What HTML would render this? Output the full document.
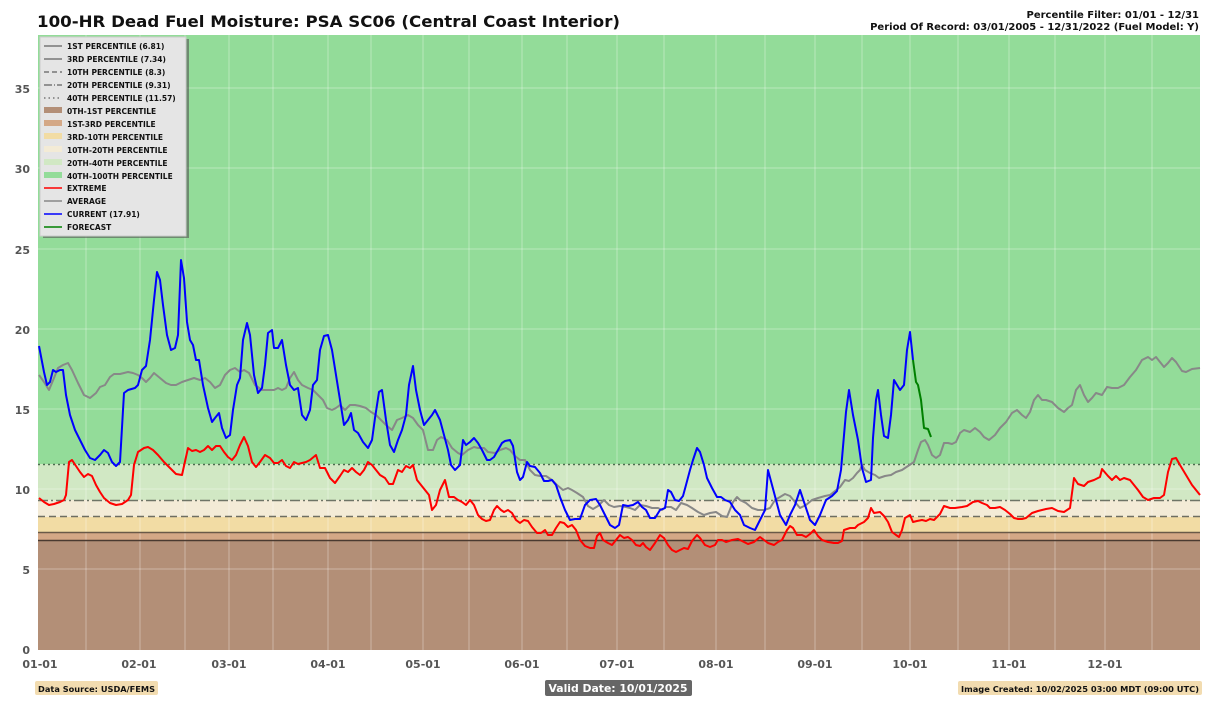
<!DOCTYPE html>
<html><head><meta charset="utf-8"><style>
body{margin:0;background:#fff;font-family:"DejaVu Sans","Liberation Sans",sans-serif;}
</style></head><body>
<svg width="1209" height="703" xmlns="http://www.w3.org/2000/svg" font-family="DejaVu Sans, Liberation Sans, sans-serif">
<rect width="1209" height="703" fill="#fff"/>
<text x="37" y="27" font-size="16" font-weight="bold" fill="#111" textLength="583" lengthAdjust="spacingAndGlyphs">100-HR Dead Fuel Moisture: PSA SC06 (Central Coast Interior)</text>
<text x="1199" y="18" font-size="10" font-weight="bold" text-anchor="end" fill="#111">Percentile Filter: 01/01 - 12/31</text>
<text x="1199" y="30" font-size="10" font-weight="bold" text-anchor="end" fill="#111">Period Of Record: 03/01/2005 - 12/31/2022 (Fuel Model: Y)</text>
<rect x="38" y="35" width="1162" height="430" fill="#93dc99"/>
<rect x="38" y="464" width="1162" height="37" fill="#d1e8c4"/>
<rect x="38" y="500" width="1162" height="17" fill="#f3ebd6"/>
<rect x="38" y="517" width="1162" height="16" fill="#f2dca4"/>
<rect x="38" y="532" width="1162" height="9" fill="#d4a886"/>
<rect x="38" y="541" width="1162" height="109" fill="#b38f77"/>
<g stroke="#fff" stroke-opacity="0.35" stroke-width="1">
<line x1="38" x2="1200" y1="88" y2="88"/><line x1="38" x2="1200" y1="168" y2="168"/><line x1="38" x2="1200" y1="249" y2="249"/><line x1="38" x2="1200" y1="329" y2="329"/><line x1="38" x2="1200" y1="409" y2="409"/><line x1="38" x2="1200" y1="489" y2="489"/><line x1="38" x2="1200" y1="569" y2="569"/>
<line x1="86" x2="86" y1="35" y2="650"/><line x1="140" x2="140" y1="35" y2="650"/><line x1="185" x2="185" y1="35" y2="650"/><line x1="229" x2="229" y1="35" y2="650"/><line x1="273" x2="273" y1="35" y2="650"/><line x1="328" x2="328" y1="35" y2="650"/><line x1="371" x2="371" y1="35" y2="650"/><line x1="423" x2="423" y1="35" y2="650"/><line x1="469" x2="469" y1="35" y2="650"/><line x1="522" x2="522" y1="35" y2="650"/><line x1="567" x2="567" y1="35" y2="650"/><line x1="617" x2="617" y1="35" y2="650"/><line x1="664" x2="664" y1="35" y2="650"/><line x1="716" x2="716" y1="35" y2="650"/><line x1="765" x2="765" y1="35" y2="650"/><line x1="815" x2="815" y1="35" y2="650"/><line x1="862" x2="862" y1="35" y2="650"/><line x1="910" x2="910" y1="35" y2="650"/><line x1="958" x2="958" y1="35" y2="650"/><line x1="1009" x2="1009" y1="35" y2="650"/><line x1="1055" x2="1055" y1="35" y2="650"/><line x1="1105" x2="1105" y1="35" y2="650"/><line x1="1152" x2="1152" y1="35" y2="650"/>
</g>
<g stroke-width="1.6" fill="none">
<line x1="38" x2="1200" y1="540.5" y2="540.5" stroke="#4a3a30"/>
<line x1="38" x2="1200" y1="532.5" y2="532.5" stroke="#6a5a48"/>
<line x1="38" x2="1200" y1="516.5" y2="516.5" stroke="#6e6e62" stroke-dasharray="7,4"/>
<line x1="38" x2="1200" y1="500.5" y2="500.5" stroke="#6e7466" stroke-dasharray="10,3,2,3"/>
<line x1="38" x2="1200" y1="464.5" y2="464.5" stroke="#4e6e50" stroke-dasharray="2,3"/>
</g>
<g fill="none" stroke-width="2" stroke-linejoin="round">
<polyline stroke="#888" points="39,375 44,382 49,390 54,378 58,368 63,365 68,363 72,370 78,383 84,395 90,398 96,393 100,387 105,385 110,377 114,374 120,374 124,373 128,372 133,373 138,375 142,378 146,382 150,378 154,373 160,378 166,383 171,385 176,385 182,382 188,380 194,378 200,380 205,378 210,382 215,388 220,385 225,375 230,370 235,368 240,372 244,370 249,373 255,385 262,390 268,390 274,390 278,388 282,390 286,388 290,378 294,372 298,380 302,385 308,388 313,390 318,395 323,400 327,408 332,410 336,408 340,405 345,410 350,405 355,405 360,406 366,408 371,412 376,415 381,420 386,425 392,430 397,420 402,418 408,415 413,418 418,425 423,430 428,450 433,450 437,440 441,437 447,440 452,448 458,453 462,455 468,450 474,447 478,448 484,448 488,452 495,453 500,450 506,448 510,450 515,456 520,460 525,460 530,470 535,475 540,476 546,476 552,480 557,485 563,490 568,488 572,490 577,493 583,497 588,506 593,509 598,506 604,500 609,505 614,507 620,506 626,507 630,508 635,510 640,505 646,506 652,508 658,508 662,510 666,507 671,507 676,510 681,503 687,505 692,508 698,512 704,515 710,513 716,512 722,516 727,517 733,502 737,497 740,500 746,503 752,508 758,510 764,510 770,508 775,500 780,497 785,494 790,496 795,502 800,508 806,505 812,500 818,498 825,496 830,495 835,491 840,487 845,480 849,481 853,478 857,473 860,470 862,465 865,470 870,473 875,475 879,478 885,476 891,475 896,472 902,470 908,466 914,462 918,450 921,442 925,440 928,445 932,455 936,458 940,455 944,443 948,443 952,444 956,442 960,433 964,430 970,432 975,428 980,432 984,437 989,440 995,435 1000,428 1006,422 1012,413 1017,410 1022,415 1026,418 1030,412 1034,400 1038,395 1042,400 1046,400 1052,402 1058,408 1064,412 1068,408 1072,405 1076,390 1080,385 1084,395 1088,402 1092,398 1096,393 1102,395 1107,387 1112,388 1118,388 1124,385 1130,377 1136,370 1142,360 1148,357 1152,360 1156,357 1160,362 1164,367 1168,363 1172,358 1176,362 1182,371 1186,372 1192,369 1200,368"/>
<polyline stroke="#ff0000" points="39,498 44,502 49,505 54,504 60,502 64,500 66,495 69,462 72,460 76,466 80,472 84,477 88,474 92,476 96,485 100,492 104,498 110,503 116,505 122,504 128,500 131,495 134,465 138,452 144,448 148,447 153,450 158,455 164,462 170,468 176,474 182,475 184,466 188,448 192,451 196,450 200,452 204,450 208,446 212,450 216,446 220,446 224,452 228,457 232,460 236,455 240,445 244,437 248,446 252,462 256,467 260,462 265,455 270,458 274,463 278,463 282,460 286,466 290,468 294,462 298,464 302,463 306,462 310,460 316,455 320,468 325,468 330,478 335,483 340,476 344,470 348,472 352,468 356,472 360,475 364,470 368,462 372,465 376,470 380,475 385,478 389,484 393,484 398,470 402,472 406,466 410,468 413,465 417,480 421,485 425,490 429,495 432,510 436,505 440,490 445,480 449,497 454,497 458,500 462,502 466,505 470,500 474,505 478,515 482,519 486,521 490,520 494,510 497,506 501,510 504,512 508,510 512,513 516,520 520,523 524,520 528,521 532,527 537,533 541,533 545,530 548,535 552,535 556,528 560,522 564,523 568,527 572,525 576,530 580,540 585,546 590,548 594,548 597,536 600,533 603,540 608,543 612,545 616,540 620,535 624,538 628,537 632,540 636,545 640,546 643,543 646,547 650,550 655,543 660,535 664,538 668,545 672,550 676,552 680,550 684,548 688,549 692,541 697,535 700,538 705,545 710,547 715,545 718,540 722,540 726,542 732,540 738,539 744,542 748,544 754,542 760,537 764,540 768,543 774,545 778,542 782,540 787,530 790,526 793,528 797,535 802,535 806,537 810,534 814,530 818,536 822,540 828,542 834,543 838,543 842,541 844,530 850,528 855,528 858,525 864,522 868,518 871,508 874,513 880,512 884,516 888,522 892,532 896,535 899,537 902,530 905,518 910,515 913,522 917,521 922,520 926,521 930,519 934,520 940,514 944,506 950,508 955,508 962,507 967,506 973,502 978,501 982,503 987,505 990,508 995,508 1000,507 1005,510 1010,514 1014,518 1018,519 1022,519 1026,518 1032,513 1038,511 1046,509 1052,508 1058,511 1064,512 1070,508 1074,478 1078,484 1084,486 1088,482 1094,480 1100,477 1102,469 1108,476 1112,480 1116,476 1120,480 1124,478 1130,480 1134,485 1138,490 1143,497 1148,500 1154,498 1160,498 1164,495 1168,472 1172,459 1176,458 1180,465 1186,475 1192,485 1196,490 1200,495"/>
<polyline stroke="#0000ff" points="39,346 44,372 47,385 50,382 53,370 56,372 60,370 63,370 66,395 70,415 75,430 80,440 85,450 90,458 95,460 100,455 104,450 108,453 112,462 116,466 120,462 124,393 128,390 135,388 138,385 142,370 146,366 150,340 154,300 157,272 160,280 163,305 167,335 171,350 175,348 178,335 181,260 184,278 187,322 190,340 193,345 196,360 199,360 203,385 208,408 212,422 215,418 219,413 222,428 226,438 230,435 233,410 237,385 240,378 243,340 247,323 250,335 254,375 258,393 262,388 265,365 268,333 272,330 274,348 278,348 282,340 286,365 290,385 294,390 298,388 302,415 306,420 310,410 313,385 317,380 320,350 324,336 328,335 332,350 336,375 340,400 344,425 348,420 351,413 354,430 358,433 363,442 368,448 372,440 375,418 379,392 382,390 386,420 390,445 394,452 398,440 402,430 406,415 409,385 413,366 416,390 420,410 424,425 428,420 432,415 435,410 440,420 444,435 448,450 451,465 455,470 460,465 463,440 466,445 470,442 474,438 478,443 482,450 487,460 490,460 494,457 498,450 502,443 505,441 510,440 513,446 517,472 520,480 523,477 527,462 530,466 535,467 540,473 544,481 548,481 552,480 556,485 560,497 565,510 570,520 575,519 580,519 585,505 590,500 596,499 600,505 605,515 610,525 615,528 619,525 623,505 628,506 633,505 638,502 642,507 646,510 650,518 655,518 660,510 665,508 668,490 671,492 675,500 679,501 683,496 686,485 690,470 693,460 697,448 700,452 704,465 707,478 712,488 717,497 721,497 725,500 730,502 735,510 740,515 744,525 750,528 755,530 760,520 765,510 768,470 772,485 776,500 780,515 786,525 790,515 795,505 800,490 805,505 810,520 815,525 820,515 826,500 832,496 837,491 841,470 846,412 849,390 853,415 858,440 862,468 866,482 871,480 873,438 876,400 878,390 881,415 884,436 888,438 891,415 894,380 897,385 900,390 904,385 907,350 910,332 913,360"/>
<polyline stroke="#008000" points="913,360 916,382 918,385 921,400 924,428 928,429 931,437"/>
</g>
<g font-size="11" font-weight="bold" fill="#555" text-anchor="end">
<text x="30" y="654">0</text><text x="30" y="574">5</text><text x="30" y="494">10</text><text x="30" y="414">15</text><text x="30" y="334">20</text><text x="30" y="254">25</text><text x="30" y="173">30</text><text x="30" y="93">35</text>
</g>
<g font-size="11" font-weight="bold" fill="#555" text-anchor="middle">
<text x="40" y="668">01-01</text><text x="139" y="668">02-01</text><text x="229" y="668">03-01</text><text x="328" y="668">04-01</text><text x="423" y="668">05-01</text><text x="522" y="668">06-01</text><text x="617" y="668">07-01</text><text x="716" y="668">08-01</text><text x="815" y="668">09-01</text><text x="910" y="668">10-01</text><text x="1009" y="668">11-01</text><text x="1105" y="668">12-01</text>
</g>
<rect x="43" y="39" width="146" height="199" fill="#555" opacity="0.6"/>
<rect x="40" y="37" width="146" height="199" fill="#e5e5e5" stroke="#ccc"/>
<g font-size="7.5" font-weight="bold" fill="#111">
<line x1="44" x2="62" y1="46" y2="46" stroke="#777" stroke-width="1.6"/><text x="67" y="49">1ST PERCENTILE (6.81)</text>
<line x1="44" x2="62" y1="59" y2="59" stroke="#777" stroke-width="1.6"/><text x="67" y="62">3RD PERCENTILE (7.34)</text>
<line x1="44" x2="62" y1="72" y2="72" stroke="#777" stroke-width="1.6" stroke-dasharray="5,3"/><text x="67" y="75">10TH PERCENTILE (8.3)</text>
<line x1="44" x2="62" y1="85" y2="85" stroke="#777" stroke-width="1.6" stroke-dasharray="8,2,1,2"/><text x="67" y="88">20TH PERCENTILE (9.31)</text>
<line x1="44" x2="62" y1="98" y2="98" stroke="#777" stroke-width="1.6" stroke-dasharray="1.5,3"/><text x="67" y="101">40TH PERCENTILE (11.57)</text>
<rect x="44" y="107" width="18" height="6" fill="#b38f77"/><text x="67" y="114">0TH-1ST PERCENTILE</text>
<rect x="44" y="120" width="18" height="6" fill="#d4a886"/><text x="67" y="127">1ST-3RD PERCENTILE</text>
<rect x="44" y="133" width="18" height="6" fill="#f2dca4"/><text x="67" y="140">3RD-10TH PERCENTILE</text>
<rect x="44" y="146" width="18" height="6" fill="#f3ebd6"/><text x="67" y="153">10TH-20TH PERCENTILE</text>
<rect x="44" y="159" width="18" height="6" fill="#d1e8c4"/><text x="67" y="166">20TH-40TH PERCENTILE</text>
<rect x="44" y="172" width="18" height="6" fill="#93dc99"/><text x="67" y="179">40TH-100TH PERCENTILE</text>
<line x1="44" x2="62" y1="188" y2="188" stroke="#f00" stroke-width="1.6"/><text x="67" y="191">EXTREME</text>
<line x1="44" x2="62" y1="201" y2="201" stroke="#888" stroke-width="1.6"/><text x="67" y="204">AVERAGE</text>
<line x1="44" x2="62" y1="214" y2="214" stroke="#00f" stroke-width="1.6"/><text x="67" y="217">CURRENT (17.91)</text>
<line x1="44" x2="62" y1="227" y2="227" stroke="#008000" stroke-width="1.6"/><text x="67" y="230">FORECAST</text>
</g>
<rect x="35" y="681" width="123" height="14" rx="2" fill="#f2dcb0"/>
<text x="38" y="692" font-size="8" font-weight="bold" fill="#111" textLength="117" lengthAdjust="spacingAndGlyphs">Data Source: USDA/FEMS</text>
<rect x="545" y="680" width="147" height="16" rx="2" fill="#666"/>
<text x="618" y="692" font-size="11" font-weight="bold" fill="#fff" text-anchor="middle" textLength="139" lengthAdjust="spacingAndGlyphs">Valid Date: 10/01/2025</text>
<rect x="958" y="681" width="244" height="14" rx="2" fill="#f2dcb0"/>
<text x="961" y="692" font-size="8" font-weight="bold" fill="#111" textLength="238" lengthAdjust="spacingAndGlyphs">Image Created: 10/02/2025 03:00 MDT (09:00 UTC)</text>
</svg>
</body></html>
